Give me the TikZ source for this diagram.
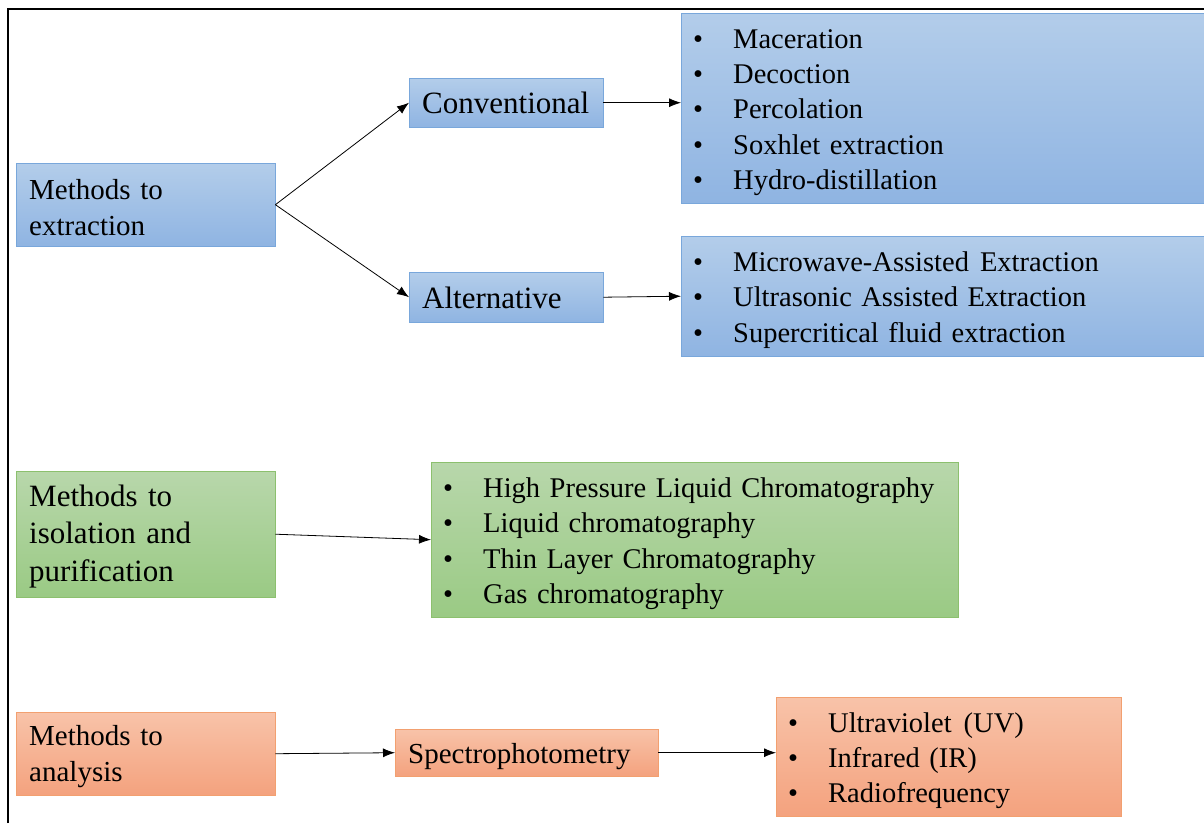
\documentclass[tikz,border=0pt]{standalone}
\usepackage{fontspec}
\setmainfont{Liberation Serif}
\usetikzlibrary{arrows.meta}
\hyphenpenalty=10000
\definecolor{blue-top}{HTML}{B3CDEA}
\definecolor{blue-bot}{HTML}{8FB4E2}
\definecolor{blue-line}{HTML}{79A7DB}
\definecolor{green-top}{HTML}{B8D7AB}
\definecolor{green-bot}{HTML}{9ACA84}
\definecolor{green-line}{HTML}{8CC06E}
\definecolor{orange-top}{HTML}{F8C3A9}
\definecolor{orange-bot}{HTML}{F4A27E}
\definecolor{orange-line}{HTML}{F2A070}
\tikzset{
    plain-box/.style = {rectangle, thin, anchor=north west, inner ysep=0pt},
    blue-box/.style = {plain-box, draw=blue-line, top color=blue-top, bottom color=blue-bot},
    green-box/.style = {plain-box, draw=green-line, top color=green-top, bottom color=green-bot},
    orange-box/.style = {plain-box, draw=orange-line, top color=orange-top, bottom color=orange-bot},
    left-text/.style = {align=left, inner xsep=13pt, text height=25pt},
    list-text/.style = {align=left, inner xsep=12pt, text height=27.5pt, font=\fontsize{28.5pt}{35.3pt}\selectfont},
    flow/.style = {-{Latex[length=12pt,width=9pt]}, line width=0.8pt, black},
}
\newcommand{\itm}{\makebox[40pt][l]{\textbullet}}

\begin{document}
\begin{tikzpicture}[x=1pt, y=-1pt]
\clip (0,0) rectangle (1204,823);
\fill[white] (0,0) rectangle (1204,823);
\draw[line width=2pt] (8,823) -- (8,9) -- (1205,9);

\node [blue-box, left-text, text width=233pt, minimum height=83pt, font=\fontsize{29pt}{36pt}\selectfont] (extraction) at (16,163) {Methods to\\extraction};
\node [blue-box, left-text, text height=22pt, text width=168pt, minimum height=49pt, font=\fontsize{31pt}{37pt}\selectfont] (conventional) at (409,78) {Conventional};
\node [blue-box, left-text, text height=22pt, text width=168pt, minimum height=50pt, font=\fontsize{31pt}{37pt}\selectfont] (alternative) at (409,272) {Alternative};
\node [blue-box, list-text, text width=516pt, minimum height=190pt] (conv-list) at (681,13) {\itm Maceration\\\itm Decoction\\\itm Percolation\\\itm Soxhlet extraction\\\itm Hydro-distillation};
\node [blue-box, list-text, text width=516pt, minimum height=120pt] (alt-list) at (681,236) {\itm Microwave-Assisted\hspace{11pt}Extraction\\\itm Ultrasonic Assisted Extraction\\\itm Supercritical fluid extraction};

\node [green-box, left-text, text height=26pt, text width=233pt, minimum height=126pt, font=\fontsize{31pt}{37.5pt}\selectfont] (isolation) at (16,471) {Methods to\\isolation and\\purification};
\node [green-box, list-text, text width=503pt, minimum height=155pt] (chrom-list) at (431,462) {\itm High Pressure Liquid Chromatography\\\itm Liquid chromatography\\\itm Thin Layer Chromatography\\\itm Gas chromatography};

\node [orange-box, left-text, text width=233pt, minimum height=83pt, font=\fontsize{29pt}{36pt}\selectfont] (analysis) at (16,712) {Methods to\\analysis};
\node [orange-box, left-text, text height=28pt, text width=237pt, minimum height=47pt, font=\fontsize{29pt}{35pt}\selectfont] (spectro) at (395,729) {Spectrophotometry};
\node [orange-box, list-text, text width=321pt, minimum height=119pt] (spectro-list) at (776,697) {\itm Ultraviolet\hspace{12pt}(UV)\\\itm Infrared (IR)\\\itm Radiofrequency};

\draw [flow] (extraction.east) -- (conventional.west);
\draw [flow] (extraction.east) -- (alternative.west);
\draw [flow] (conventional.east) -- (conventional.east -| conv-list.west);
\draw [flow] (alternative.east) -- (alt-list.west);
\draw [flow] (isolation.east) -- (chrom-list.west);
\draw [flow] (analysis.east) -- (spectro.west);
\draw [flow] (spectro.east) -- (spectro.east -| spectro-list.west);
\end{tikzpicture}
\end{document}
